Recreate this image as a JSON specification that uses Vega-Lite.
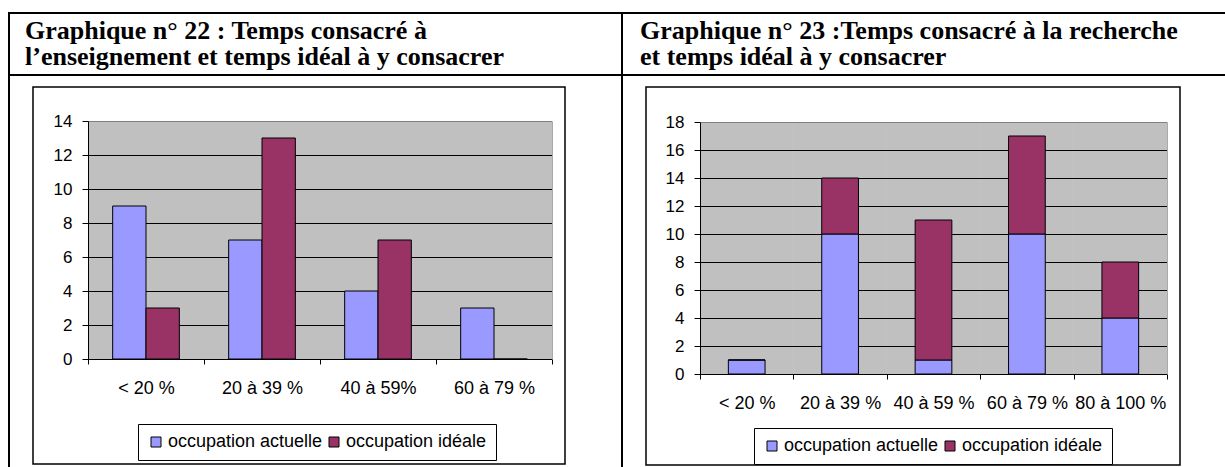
{
  "background": "white",
  "padding": {"left": 8, "top": 12, "right": 0, "bottom": 0},
  "config": {
    "view": {"stroke": null},
    "font": "Liberation Sans",
    "concat": {"spacing": 0},
    "axis": {"labelFont": "Liberation Sans", "labelColor": "black", "domainColor": "black", "tickColor": "black", "labelOverlap": false},
    "legend": {"labelFont": "Liberation Sans"}
  },
  "datasets": {
    "g22": [
      {"cat": "< 20 %", "serie": "occupation actuelle", "n": 9},
      {"cat": "< 20 %", "serie": "occupation idéale", "n": 3},
      {"cat": "20 à 39 %", "serie": "occupation actuelle", "n": 7},
      {"cat": "20 à 39 %", "serie": "occupation idéale", "n": 13},
      {"cat": "40 à 59%", "serie": "occupation actuelle", "n": 4},
      {"cat": "40 à 59%", "serie": "occupation idéale", "n": 7},
      {"cat": "60 à 79 %", "serie": "occupation actuelle", "n": 3},
      {"cat": "60 à 79 %", "serie": "occupation idéale", "n": 0}
    ],
    "g23": [
      {"cat": "< 20 %", "serie": "occupation actuelle", "n": 1},
      {"cat": "< 20 %", "serie": "occupation idéale", "n": 0},
      {"cat": "20 à 39 %", "serie": "occupation actuelle", "n": 10},
      {"cat": "20 à 39 %", "serie": "occupation idéale", "n": 4},
      {"cat": "40 à 59 %", "serie": "occupation actuelle", "n": 1},
      {"cat": "40 à 59 %", "serie": "occupation idéale", "n": 10},
      {"cat": "60 à 79 %", "serie": "occupation actuelle", "n": 10},
      {"cat": "60 à 79 %", "serie": "occupation idéale", "n": 7},
      {"cat": "80 à 100 %", "serie": "occupation actuelle", "n": 4},
      {"cat": "80 à 100 %", "serie": "occupation idéale", "n": 4}
    ]
  },
  "spacing": 0,
  "resolve": {"scale": {"color": "independent"}, "legend": {"color": "independent"}},
  "hconcat": [
    {"width": 2, "height": 455, "mark": "rect", "data": {"values": []}, "encoding": {}, "view": {"fill": "black", "stroke": null}},
    {
      "spacing": 0,
      "resolve": {"scale": {"color": "independent"}, "legend": {"color": "independent"}},
      "vconcat": [
        {"width": 611, "height": 2, "mark": "rect", "data": {"values": []}, "encoding": {}, "view": {"fill": "black", "stroke": null}},
        {"width": 611, "height": 60, "mark": "rect", "data": {"values": []}, "encoding": {}, "view": {"fill": "white", "stroke": null},
         "title": {"text": ["Graphique n° 22 : Temps consacré à", "l’enseignement et temps idéal à y consacrer"], "anchor": "start", "frame": "group", "orient": "top", "offset": -56, "dx": 15, "font": "Liberation Serif", "fontSize": 26, "fontWeight": "bold", "color": "black", "lineHeight": 26.5}},
        {"width": 611, "height": 2, "mark": "rect", "data": {"values": []}, "encoding": {}, "view": {"fill": "black", "stroke": null}},
        {"width": 611, "height": 9.25, "mark": "rect", "data": {"values": []}, "encoding": {}, "view": {"fill": "white", "stroke": null}},
        {
          "spacing": 0,
          "resolve": {"scale": {"color": "independent"}, "legend": {"color": "independent"}},
          "hconcat": [
            {"width": 21.25, "height": 377, "mark": "rect", "data": {"values": []}, "encoding": {}, "view": {"fill": "white", "stroke": null}},
            {
              "width": 532, "height": 377,
              "view": {"fill": "white", "stroke": "black", "strokeWidth": 1.5},
              "data": {"name": "g22"},
              "resolve": {"axis": {"y": "independent"}},
              "encoding": {
                "x": {"field": "cat", "type": "nominal",
                  "scale": {"domain": ["< 20 %", "20 à 39 %", "40 à 59%", "60 à 79 %"], "range": [55, 519], "paddingInner": 0, "paddingOuter": 0},
                  "axis": {"title": null, "tickBand": "extent", "tickSize": 5, "labelFontSize": 18, "labelPadding": 24, "labelBaseline": "middle", "labelAngle": 0, "offset": -105, "grid": false}}
              },
              "layer": [
                {
                  "transform": [{"filter": "datum.serie === 'occupation actuelle'"}],
                  "mark": {"type": "bar", "fill": "black", "opacity": 0.247},
                  "encoding": {
                    "y": {"datum": 0, "type": "quantitative", "scale": {"domain": [0, 14], "range": [272, 34]},
                      "axis": {"title": null, "orient": "right", "offset": -13, "domainColor": "#AAAAAA", "labels": false, "ticks": false, "grid": false}},
                    "y2": {"datum": 14}
                  }
                },
                {
                  "mark": {"type": "bar", "stroke": "black", "strokeWidth": 1},
                  "encoding": {
                    "xOffset": {"field": "serie", "type": "nominal", "scale": {"paddingOuter": 0.74, "paddingInner": 0}},
                    "y": {"field": "n", "type": "quantitative", "stack": null,
                      "scale": {"domain": [0, 14], "range": [272, 34]},
                      "axis": {"title": null, "orient": "left", "values": [0, 2, 4, 6, 8, 10, 12, 14], "tickSize": 6, "labelFontSize": 17, "labelPadding": 10, "offset": -55,
                        "grid": true, "gridWidth": 1, "gridColor": {"condition": {"test": "datum.value === 14", "value": "#AAAAAA"}, "value": "black"}}},
                    "color": {"field": "serie", "type": "nominal",
                      "scale": {"domain": ["occupation actuelle", "occupation idéale"], "range": ["#9999FF", "#993366"]},
                      "legend": {"orient": "none", "legendX": 105, "legendY": 337, "direction": "horizontal", "title": null,
                        "symbolType": "square", "symbolSize": 100, "symbolStrokeColor": "black", "symbolStrokeWidth": 1, "symbolOpacity": 1,
                        "labelFontSize": 18, "labelColor": "black", "labelOffset": 3, "columnPadding": 2, "padding": 9,
                        "strokeColor": "black", "fillColor": "white"}}
                  }
                }
              ]
            }
          ]
        }
      ]
    },
    {"width": 2, "height": 455, "mark": "rect", "data": {"values": []}, "encoding": {}, "view": {"fill": "black", "stroke": null}},
    {
      "spacing": 0,
      "resolve": {"scale": {"color": "independent"}, "legend": {"color": "independent"}},
      "vconcat": [
        {"width": 602, "height": 2, "mark": "rect", "data": {"values": []}, "encoding": {}, "view": {"fill": "black", "stroke": null}},
        {"width": 602, "height": 60, "mark": "rect", "data": {"values": []}, "encoding": {}, "view": {"fill": "white", "stroke": null},
         "title": {"text": ["Graphique n° 23 :Temps consacré à la recherche", "et temps idéal à y consacrer"], "anchor": "start", "frame": "group", "orient": "top", "offset": -56, "dx": 17, "font": "Liberation Serif", "fontSize": 26, "fontWeight": "bold", "color": "black", "lineHeight": 26.5}},
        {"width": 602, "height": 2, "mark": "rect", "data": {"values": []}, "encoding": {}, "view": {"fill": "black", "stroke": null}},
        {"width": 602, "height": 9.25, "mark": "rect", "data": {"values": []}, "encoding": {}, "view": {"fill": "white", "stroke": null}},
        {
          "spacing": 0,
          "resolve": {"scale": {"color": "independent"}, "legend": {"color": "independent"}},
          "hconcat": [
            {"width": 21.25, "height": 378, "mark": "rect", "data": {"values": []}, "encoding": {}, "view": {"fill": "white", "stroke": null}},
            {
              "width": 534, "height": 378,
              "view": {"fill": "white", "stroke": "black", "strokeWidth": 1.5},
              "data": {"name": "g23"},
              "resolve": {"axis": {"y": "independent"}},
              "encoding": {
                "x": {"field": "cat", "type": "nominal",
                  "scale": {"domain": ["< 20 %", "20 à 39 %", "40 à 59 %", "60 à 79 %", "80 à 100 %"], "range": [54, 521], "paddingInner": 0, "paddingOuter": 0},
                  "axis": {"title": null, "tickBand": "extent", "tickSize": 5, "labelFontSize": 18, "labelPadding": 24, "labelBaseline": "middle", "labelAngle": 0, "offset": -91, "grid": false}}
              },
              "layer": [
                {
                  "transform": [{"filter": "datum.serie === 'occupation actuelle'"}],
                  "mark": {"type": "bar", "fill": "black", "opacity": 0.247},
                  "encoding": {
                    "y": {"datum": 0, "type": "quantitative", "scale": {"domain": [0, 18], "range": [287, 35]},
                      "axis": {"title": null, "orient": "right", "offset": -13, "domainColor": "#AAAAAA", "labels": false, "ticks": false, "grid": false}},
                    "y2": {"datum": 18}
                  }
                },
                {
                  "mark": {"type": "bar", "stroke": "black", "strokeWidth": 1, "width": {"band": 0.393}},
                  "encoding": {
                    "y": {"field": "n", "type": "quantitative", "stack": "zero",
                      "scale": {"domain": [0, 18], "range": [287, 35]},
                      "axis": {"title": null, "orient": "left", "values": [0, 2, 4, 6, 8, 10, 12, 14, 16, 18], "tickSize": 6, "labelFontSize": 17, "labelPadding": 10, "offset": -54,
                        "grid": true, "gridWidth": 1, "gridColor": {"condition": {"test": "datum.value === 18", "value": "#AAAAAA"}, "value": "black"}}},
                    "order": {"field": "serie", "sort": "ascending"},
                    "color": {"field": "serie", "type": "nominal",
                      "scale": {"domain": ["occupation actuelle", "occupation idéale"], "range": ["#9999FF", "#993366"]},
                      "legend": {"orient": "none", "legendX": 108, "legendY": 341, "direction": "horizontal", "title": null,
                        "symbolType": "square", "symbolSize": 100, "symbolStrokeColor": "black", "symbolStrokeWidth": 1, "symbolOpacity": 1,
                        "labelFontSize": 18, "labelColor": "black", "labelOffset": 3, "columnPadding": 2, "padding": 9,
                        "strokeColor": "black", "fillColor": "white"}}
                  }
                }
              ]
            }
          ]
        }
      ]
    }
  ]
}
